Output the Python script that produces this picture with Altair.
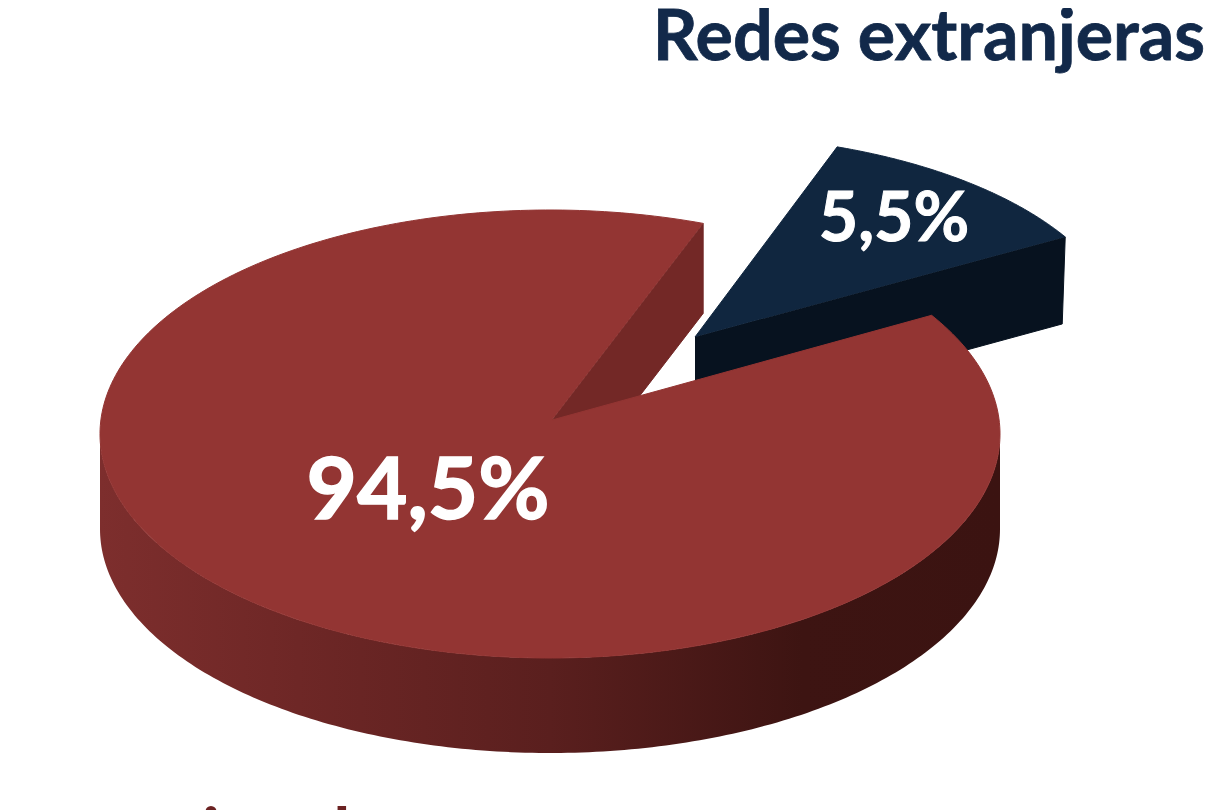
import numpy as np
import pandas as pd
import altair as alt

# Values
categories = ["Redes nacionales", "Redes extranjeras"]
shares = [94.5, 5.5]
label_text = [f"{v:.1f}".replace(".", ",") + "%" for v in shares]

# Drawn slice sweep, measured clockwise from the top of the ellipse (degrees)
main_sweep = [58.0, 379.9]
blue_sweep = [19.5, 59.5]

RED_TOP, RED_CUT = "#933533", "#732826"
NAVY_TOP, NAVY_SIDE = "#10263f", "#07121f"
NAVY_TEXT, MAROON_TEXT = "#12294a", "#6b2222"
WHITE = "#ffffff"
FONT = "Lato"

XS = alt.Scale(domain=[8, 1211], nice=False, zero=False)
YS = alt.Scale(domain=[810, 8], nice=False, zero=False)


def rim(cx, cy, rx, ry, t0, t1, n=120):
    t = np.radians(np.linspace(t0, t1, n))
    return cx + rx * np.sin(t), cy - ry * np.cos(t)


def polygon(xs, ys, fill):
    df = pd.DataFrame({"x": xs, "y": ys, "i": range(len(xs))})
    return alt.Chart(df).mark_line(fill=fill, stroke=fill, strokeWidth=1, clip=True).encode(
        x=alt.X("x:Q", scale=XS, axis=None),
        y=alt.Y("y:Q", scale=YS, axis=None),
        order="i:Q",
    )


# main pie ellipse
cx, cy, rx, ry, depth = 550, 434, 450, 224, 95
apex_x, apex_y = 552, 420

# navy slice
bx, by, brx, bry, bdepth = 693, 342, 432, 207, 87
bax, bay = 695, 337
brim_x, brim_y = rim(bx, by, brx, bry, *blue_sweep)
navy_side = polygon(
    [bax, brim_x[-1], brim_x[-1] - 3, bax],
    [bay, brim_y[-1], brim_y[-1] + bdepth, bay + bdepth],
    NAVY_SIDE,
)
navy_top = polygon(
    np.r_[bax, brim_x], np.r_[bay, brim_y], NAVY_TOP
)

# inner cut wall of the red slice
sx, sy = rim(cx, cy, rx, ry, main_sweep[1], main_sweep[1], 1)
cut_wall = polygon(
    [apex_x, sx[0], sx[0], apex_x],
    [apex_y, sy[0], sy[0] + 90, apex_y + 90],
    RED_CUT,
)

# outer wall: front half of the ellipse
wx, wy = rim(cx, cy, rx, ry, 90, 270, 200)
wall_df = pd.DataFrame({"x": wx, "y": wy, "y2": wy + depth})
wall = alt.Chart(wall_df).mark_area(
    clip=True,
    color=alt.Gradient(
        gradient="linear", x1=0, x2=1, y1=0, y2=0,
        stops=[
            alt.GradientStop(color="#7d2e2d", offset=0),
            alt.GradientStop(color="#6e2726", offset=0.22),
            alt.GradientStop(color="#5a1f1e", offset=0.5),
            alt.GradientStop(color="#3d1412", offset=0.78),
            alt.GradientStop(color="#3b1311", offset=1),
        ],
    ),
).encode(
    x=alt.X("x:Q", scale=XS, axis=None),
    y=alt.Y("y:Q", scale=YS, axis=None),
    y2="y2:Q",
)

# red top face
mx, my = rim(cx, cy, rx, ry, *main_sweep, 300)
main_top = polygon(np.r_[apex_x, mx], np.r_[apex_y, my], RED_TOP)


def text(x, y, s, size, color, align, weight=0.0):
    df = pd.DataFrame({"x": [x], "y": [y], "t": [s]})
    return alt.Chart(df).mark_text(
        font=FONT, fontWeight="bold", fontSize=size, color=color, align=align,
        baseline="alphabetic", stroke=color, strokeWidth=weight,
    ).encode(
        x=alt.X("x:Q", scale=XS, axis=None),
        y=alt.Y("y:Q", scale=YS, axis=None),
        text="t:N",
    )


title_top = text(1205, 60, categories[1], 70, NAVY_TEXT, "right", 0.8)
title_bottom = text(-107, 857, categories[0], 69, MAROON_TEXT, "left")
lab_main = text(428, 519, label_text[0], 87, WHITE, "center", 1.5)
lab_navy = text(894, 241, label_text[1], 68, WHITE, "center", 1.0)

chart = alt.layer(
    navy_side, navy_top, cut_wall, wall, main_top,
    title_top, title_bottom, lab_main, lab_navy,
).properties(
    width=1203, height=802, autosize="none", padding=0, background="#ffffff",
).configure_view(stroke=None)

chart.save("out.html", embed_options={"renderer": "svg", "actions": False})
